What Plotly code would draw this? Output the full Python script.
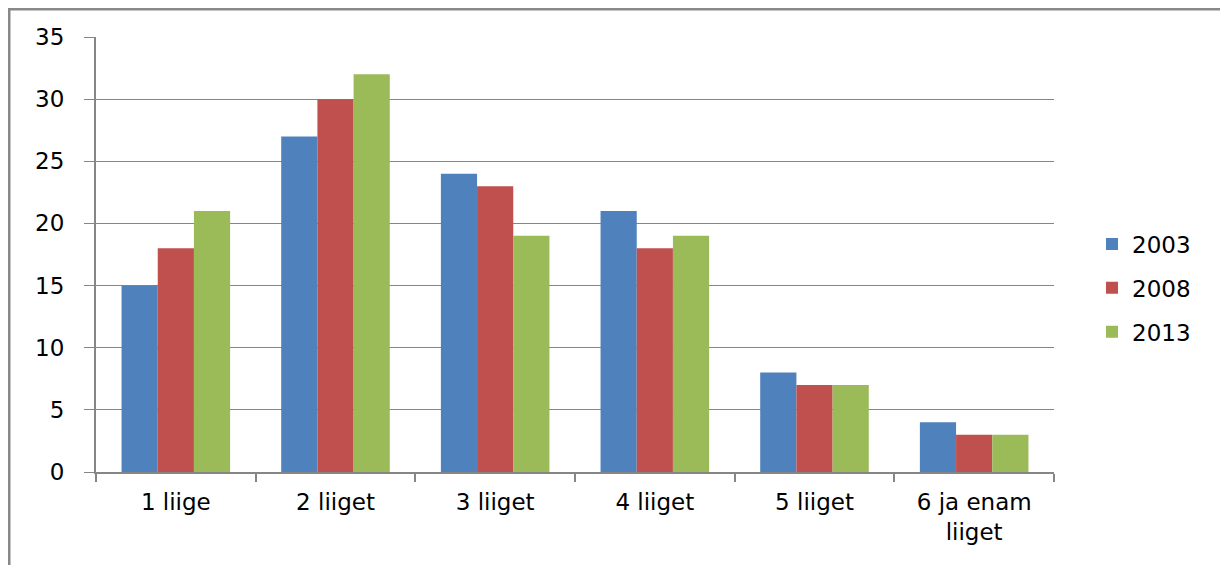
import plotly.graph_objects as go

categories = ["1 liige", "2 liiget", "3 liiget", "4 liiget", "5 liiget", "6 ja enam<br>liiget"]
series_names = ["2003", "2008", "2013"]
values_2003 = [15, 27, 24, 21, 8, 4]
values_2008 = [18, 30, 23, 18, 7, 3]
values_2013 = [21, 32, 19, 19, 7, 3]
colors = ["#4F81BD", "#C0504D", "#9BBB59"]
y_ticks = [0, 5, 10, 15, 20, 25, 30, 35]

fig = go.Figure()
for name, vals, col in zip(series_names, [values_2003, values_2008, values_2013], colors):
    fig.add_trace(go.Bar(x=categories, y=vals, name=name, marker_color=col,
                         marker_line_width=0, legendgroup=name))

font_family = "DejaVu Sans"
OFF = 8  # page body offset
L, R, T, B = 96, 174, 37, 93
W, H = 1228, 565
pw, ph = W - L - R, H - T - B

fig.update_layout(
    width=W, height=H,
    margin=dict(l=L - OFF, r=R + OFF, t=T - OFF, b=B + OFF),
    barmode="group", bargap=0.32, bargroupgap=0,
    plot_bgcolor="white", paper_bgcolor="white",
    font=dict(family=font_family, size=23, color="#000000"),
    showlegend=True,
    legend=dict(x=1 + (1092 - (W - R)) / pw, y=(H - B - 288) / ph, xanchor="left", yanchor="middle",
                font=dict(size=23), tracegroupgap=11, itemwidth=30),
    yaxis=dict(range=[0, 35], tickvals=y_ticks, showgrid=True, gridcolor="#868686",
               gridwidth=1, showline=True, linecolor="#868686", linewidth=2,
               ticks="outside", ticklen=10, tickcolor="#868686", ticklabelstandoff=15,
               zeroline=False, tickfont=dict(size=23)),
    xaxis=dict(showline=True, linecolor="#868686", linewidth=2, ticks="outside",
               tickson="boundaries", ticklen=8, tickcolor="#868686", tickwidth=2,
               tickfont=dict(size=23), ticklabelstandoff=8),
    shapes=[dict(type="rect", xref="paper", yref="paper",
                 x0=(9 - L) / pw, x1=1.3, y0=-0.4, y1=(H - B - 9) / ph,
                 line=dict(color="#888888", width=3), layer="below")],
)

fig.write_html("out.html")
